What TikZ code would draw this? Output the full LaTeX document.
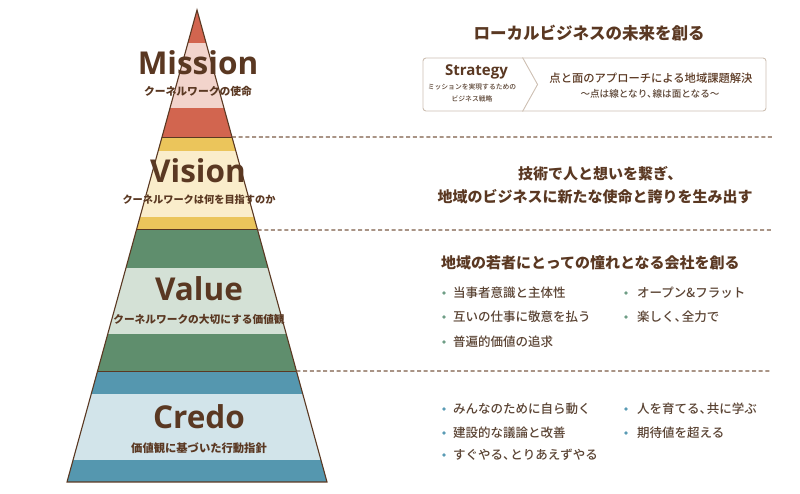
\documentclass[tikz,border=0pt]{standalone}
\usepackage{fontspec}
\newfontfamily\lat{Open Sans}
\newfontfamily\jp{Noto Sans CJK JP}
\newfontfamily\jpm{Noto Sans CJK JP Medium}
\newcommand\myten{、\kern-0.42em}
\definecolor{mdark}{HTML}{D2654F}
\definecolor{mlight}{HTML}{F2D4CC}
\definecolor{vdark}{HTML}{EBC55B}
\definecolor{vlight}{HTML}{FAEDCB}
\definecolor{gdark}{HTML}{5F8E6D}
\definecolor{glight}{HTML}{D4E1D6}
\definecolor{cdark}{HTML}{5597AF}
\definecolor{clight}{HTML}{D2E4EA}
\definecolor{brn}{HTML}{5A3822}
\definecolor{btxt}{HTML}{5A4333}
\definecolor{dashc}{HTML}{7B5B45}
\definecolor{boxc}{HTML}{CDBFB2}
\definecolor{gdot}{HTML}{6F9E86}
\definecolor{bdot}{HTML}{5A9BB5}
\begin{document}
\begin{tikzpicture}[x=1pt,y=-1pt,
  bigtitle/.style={text=brn,font=\lat\bfseries\fontsize{31.5}{31}\selectfont,inner sep=0pt,anchor=base},
  subt/.style={text=brn,font=\jp\bfseries\fontsize{#1}{12}\selectfont,inner sep=0pt},
  head/.style={text=brn,font=\jp\bfseries\fontsize{15}{23}\selectfont,inner sep=0pt,align=center},
  bul/.style={text=btxt,font=\jpm\fontsize{12.5}{14}\selectfont,inner sep=0pt,anchor=west},
  dashline/.style={draw=dashc,line width=1.4pt,dash pattern=on 4pt off 2.7pt},
  sep/.style={draw=brn,line width=1pt},
]
\useasboundingbox (0,0) rectangle (800,494);
\coordinate (apex) at (197,10);
\coordinate (bl) at (67,482);
\coordinate (br) at (327,482);
\begin{scope}
\clip (apex) -- (br) -- (bl) -- cycle;
\fill[mdark] (0,0) rectangle (400,43);
\fill[mlight] (0,43) rectangle (400,108);
\fill[mdark] (0,108) rectangle (400,137);
\fill[vdark] (0,137) rectangle (400,151);
\fill[vlight] (0,151) rectangle (400,217);
\fill[vdark] (0,217) rectangle (400,230);
\fill[gdark] (0,230) rectangle (400,268);
\fill[glight] (0,268) rectangle (400,334);
\fill[gdark] (0,334) rectangle (400,371);
\fill[cdark] (0,371) rectangle (400,394);
\fill[clight] (0,394) rectangle (400,460);
\fill[cdark] (0,460) rectangle (400,482);
\end{scope}
\path (apex) -- (bl) coordinate[pos=0.26907] (l1) coordinate[pos=0.46610] (l2) coordinate[pos=0.76483] (l3);
\path (apex) -- (br) coordinate[pos=0.26907] (r1) coordinate[pos=0.46610] (r2) coordinate[pos=0.76483] (r3);
\draw[sep] (l1) -- (r1);
\draw[sep] (l2) -- (r2);
\draw[sep] (l3) -- (r3);
\draw[draw=brn,line width=1.1pt,line join=miter] (apex) -- (br) -- (bl) -- cycle;
% dashed separators
\coordinate (d1) at (772,137);
\coordinate (d2) at (772,230);
\coordinate (d3) at (772,371);
\draw[dashline] (r1) -- (d1);
\draw[dashline] (r2) -- (d2);
\draw[dashline] (r3) -- (d3);
% pyramid titles
\node[bigtitle] (mis) at (198,75) {Mission};
\node[subt=10.8] (missub) at (198,91) {クーネルワークの使命};
\node[bigtitle] (vis) at (198,182.5) {Vision};
\node[subt=10.2] (vissub) at (199,200) {クーネルワークは何を目指すのか};
\node[bigtitle] (val) at (199,301) {Value};
\node[subt=10.7] (valsub) at (199,319) {クーネルワークの大切にする価値観};
\node[bigtitle] (cre) at (199,428) {Credo};
\node[subt=11.3] (cresub) at (199,448) {価値観に基づいた行動指針};
% Mission right side
\node[text=brn,font=\jp\bfseries\fontsize{16.5}{20}\selectfont,inner sep=0pt] (mtitle) at (589,33) {ローカルビジネスの未来を創る};
\node[draw=boxc,line width=0.9pt,rounded corners=3pt,minimum width=343pt,minimum height=53pt,inner sep=0pt] (sbox) at (594.5,84.5) {};
\coordinate (ct) at ([xshift=100pt]sbox.north west);
\coordinate (cm) at ([xshift=115pt]sbox.west);
\coordinate (cb) at ([xshift=100pt]sbox.south west);
\draw[draw=boxc,line width=0.9pt] (ct) -- (cm) -- (cb);
\node[text=brn,font=\lat\bfseries\fontsize{15}{15}\selectfont,inner sep=0pt,anchor=base] (strat) at (476.5,76) {Strategy};
\node[text=btxt,font=\jpm\fontsize{6.8}{12}\selectfont,inner sep=0pt,align=center] (stratsub) at (472,93) {ミッションを実現するための\\ビジネス戦略};
\node[text=brn,font=\jpm\fontsize{11.3}{13}\selectfont,inner sep=0pt] (sline1) at (651,78) {点と面のアプローチによる地域課題解決};
\node[text=btxt,font=\jpm\fontsize{9.6}{12}\selectfont,inner sep=0pt] (sline2) at (650,94) {〜点は線となり\myten 線は面となる〜};
% Vision right side
\node[head] (vtext1) at (597,174) {技術で人と想いを繋ぎ\myten};
\node[head] (vtext2) at (595,197) {地域のビジネスに新たな使命と誇りを生み出す};
% Value right side
\node[head,anchor=west] (valtitle) at (441,263) {地域の若者にとっての憧れとなる会社を創る};
\foreach \y/\t [count=\i] in {293/当事者意識と主体性,317/互いの仕事に敬意を払う,342/普遍的価値の追求}{
  \fill[gdot] (444,\y) circle (1.8);
  \node[bul] (va\i) at (453,\y) {\t};
}
\foreach \y/\t [count=\i] in {293/オープン\&フラット,317/楽しく\myten 全力で}{
  \fill[gdot] (626,\y) circle (1.8);
  \node[bul] (vb\i) at (637,\y) {\t};
}
% Credo right side
\foreach \y/\t [count=\i] in {409/みんなのために自ら動く,433/建設的な議論と改善,455/すぐやる\myten とりあえずやる}{
  \fill[bdot] (444,\y) circle (1.8);
  \node[bul] (ca\i) at (453,\y) {\t};
}
\foreach \y/\t [count=\i] in {409/人を育てる\myten 共に学ぶ,433/期待値を超える}{
  \fill[bdot] (626,\y) circle (1.8);
  \node[bul] (cb\i) at (637,\y) {\t};
}
\end{tikzpicture}
\end{document}
